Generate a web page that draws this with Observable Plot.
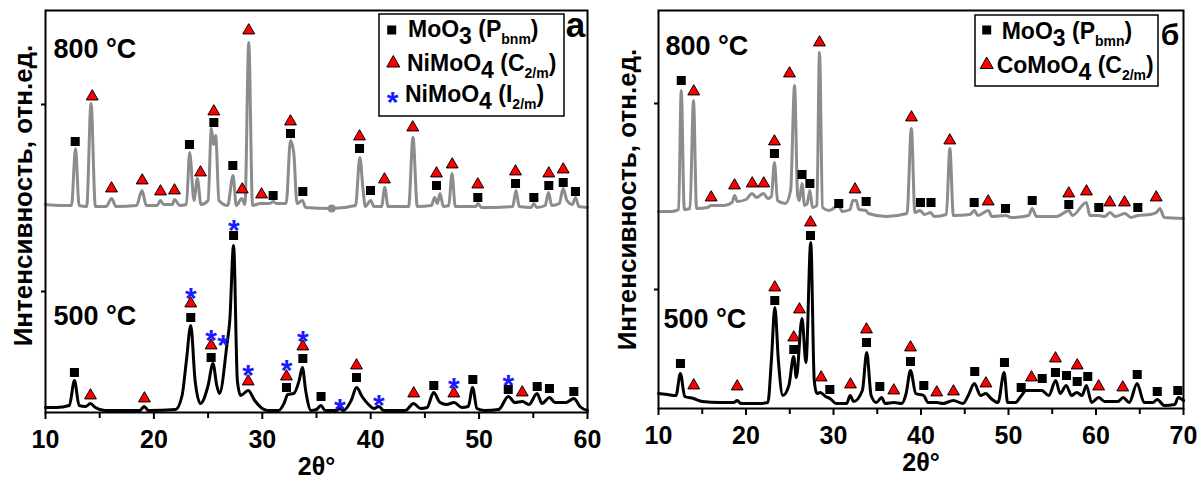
<!DOCTYPE html>
<html><head><meta charset="utf-8">
<script src="https://cdn.jsdelivr.net/npm/d3@7"></script>
<script src="https://cdn.jsdelivr.net/npm/@observablehq/plot@0.6"></script>
<style>
body{margin:0;background:#fff;}
#wrap{position:relative;width:1201px;height:479px;overflow:hidden;font-family:"Liberation Sans",Arial,sans-serif;}
#left,#right{position:absolute;top:0;}
#left{left:0;} #right{left:600px;}
#overlay{position:absolute;left:0;top:0;}
</style></head><body>
<div id="wrap"><div id="left"></div><div id="right"></div><svg id="overlay" width="1201" height="479"></svg></div>
<script>
// ---------- Panel а (Ni) : 2θ vs intensity (arb. units) ----------
const curveA800 = [[10.0,208],[11.5,207],[12.4,207],[12.77,264],[13.1,207],[13.8,206],[14.2,309],[14.6,206],[15.6,206],[16.1,214],[16.5,206],[18.4,207],[18.9,222],[19.3,207],[20.3,207],[20.6,212],[20.9,208],[21.7,208],[21.9,213],[22.4,207],[23.0,208],[23.3,260],[23.7,212],[24.0,234],[24.35,208],[25.0,212],[25.3,284],[25.5,268],[25.7,277],[26.0,212],[26.8,207],[27.3,237],[27.6,207],[28.1,214],[28.4,208],[28.75,370],[29.1,207],[29.8,209],[30.7,209],[31.0,211],[31.3,209],[32.2,209],[32.6,272],[32.9,260],[33.2,209],[33.7,212],[34.0,205],[36.4,204],[38.6,207],[39.0,255],[39.3,222],[39.5,206],[40.0,212],[40.3,206],[41.0,206],[41.3,225],[41.6,206],[43.5,206],[43.9,275],[44.3,206],[45.6,207],[45.9,215],[46.15,209],[46.4,219],[46.7,206],[47.2,207],[47.5,239],[47.8,206],[49.7,206],[49.9,209],[50.2,205],[53.1,206],[53.4,222],[53.7,206],[54.8,205],[55.05,209],[55.3,205],[56.1,207],[56.4,220],[56.7,207],[57.4,209],[57.75,224],[58.1,212],[58.6,208],[58.9,215],[59.2,206],[60.0,205]];
const curveA500 = [[10.0,5],[11.0,5],[12.2,7],[12.67,32],[13.1,7],[13.7,6],[14.15,9],[14.6,5],[15.5,2],[18.7,2],[19.1,6],[19.5,2],[22.0,3],[22.6,17],[23.0,52],[23.4,87],[23.8,32],[24.3,9],[25.0,27],[25.45,49],[25.8,27],[26.05,19],[26.75,69],[27.0,92],[27.35,167],[27.7,32],[28.0,17],[28.7,22],[29.3,12],[30.0,4],[30.5,2],[31.5,2],[32.0,9],[32.35,18],[32.9,19],[33.4,32],[33.7,45],[34.0,22],[34.5,2],[35.0,3],[35.4,7],[35.8,2],[36.8,2],[37.15,4],[37.5,2],[38.2,12],[38.7,25],[39.2,16],[39.8,8],[40.3,4],[40.75,6],[41.2,2],[43.2,2],[43.95,9],[44.6,4],[45.2,5],[45.8,20],[46.4,10],[47.0,8],[47.7,10],[48.4,5],[49.0,6],[49.4,25],[49.8,4],[50.5,2],[51.8,3],[52.7,16],[53.3,10],[54.0,11],[54.6,8],[55.35,19],[55.8,9],[56.5,15],[57.0,10],[58.0,10],[58.75,14],[59.3,6],[60.0,2]];
const sqA800 = [[12.74,271],[23.28,268],[25.53,290],[27.28,247],[31.0,217],[32.6,279],[33.74,221],[38.97,264],[39.98,222],[46.07,227],[49.88,215],[53.36,229],[55.05,215],[56.43,227],[57.76,230],[58.89,221]];
const trA800 = [[14.31,316],[16.09,224],[18.92,232],[20.61,221],[21.9,222],[24.3,240],[25.53,301],[28.15,223],[28.75,382],[29.93,218],[32.6,291],[38.97,276],[41.27,233],[43.88,285],[46.07,239],[47.52,248],[49.88,228],[53.36,241],[56.43,239],[57.76,243]];
const dotA800 = [[36.4,204]];
const sqA500 = [[12.67,40],[23.4,95],[25.28,55],[27.35,177],[32.23,25],[33.74,54],[35.42,16],[38.69,35],[45.82,27],[49.42,33],[52.69,23],[55.36,26],[56.49,24],[58.74,21]];
const trA500 = [[14.15,17],[19.13,14],[23.4,109],[25.28,67],[28.7,31],[32.23,36],[33.74,66],[38.69,47],[43.97,19],[47.67,19],[53.98,20]];
const stA500 = [[23.4,122],[25.28,80],[26.39,75],[27.37,190],[28.7,45],[32.23,50],[33.74,79],[37.15,11],[40.75,15],[47.67,32],[52.69,35]];

// ---------- Panel б (Co) ----------
const curveB800 = [[10.0,197],[11.5,197],[12.3,199],[12.6,318],[12.95,199],[13.6,200],[14.0,308],[14.35,200],[15.6,201],[16.0,203],[17.5,203],[18.4,206],[18.7,213],[19.0,207],[20.0,209],[20.7,215],[21.2,211],[22.0,215],[22.5,210],[22.9,212],[23.25,246],[23.6,208],[24.5,205],[25.1,218],[25.55,323],[25.9,213],[26.1,208],[26.4,225],[26.7,203],[27.0,205],[27.3,218],[27.6,201],[28.1,203],[28.4,356],[28.75,201],[29.5,198],[30.6,203],[31.0,197],[31.9,199],[32.2,208],[32.6,208],[32.9,199],[33.7,198],[34.0,195],[36.0,192],[38.4,195],[38.9,280],[39.3,196],[39.9,198],[40.4,194],[41.1,196],[41.5,192],[42.9,194],[43.3,260],[43.7,193],[45.6,194],[46.1,198],[46.5,193],[47.7,198],[48.1,192],[49.7,193],[50.3,191],[52.3,193],[52.7,200],[53.2,192],[55.5,192],[56.6,197],[56.9,198],[57.3,193],[58.9,206],[59.3,193],[60.3,193],[61.0,192],[61.6,196],[62.2,192],[63.3,195],[64.0,191],[64.8,193],[66.2,194],[66.9,196],[67.3,200],[67.8,191],[70.0,190]];
const curveB500 = [[10.0,15],[11.0,14],[12.0,13],[12.5,35],[13.0,12],[14.0,10],[15.0,7],[17.0,6],[18.6,6],[19.0,8],[19.4,5],[21.5,5],[22.5,6],[22.9,48],[23.3,101],[23.7,48],[24.2,13],[24.9,23],[25.45,52],[25.75,31],[26.4,90],[26.85,46],[27.4,166],[27.8,28],[28.1,15],[28.5,16],[29.1,12],[29.6,10],[30.3,5],[31.5,5],[31.9,13],[32.3,7],[33.3,18],[33.8,56],[34.3,13],[34.9,6],[35.5,11],[35.9,5],[36.9,6],[37.8,5],[38.3,15],[38.8,38],[39.4,15],[40.3,13],[40.8,6],[41.8,6],[42.5,5],[43.7,8],[44.8,5],[45.4,13],[46.1,25],[46.8,13],[47.4,15],[48.0,10],[48.8,6],[49.5,36],[49.9,6],[50.8,6],[51.4,12],[52.0,18],[53.0,18],[53.8,18],[54.6,13],[55.4,28],[55.9,15],[56.6,23],[57.2,13],[57.8,16],[58.4,13],[58.9,23],[59.5,6],[60.3,11],[61.0,7],[62.5,7],[63.1,11],[63.8,6],[64.7,25],[65.5,6],[66.5,6],[67.0,9],[67.8,3],[69.0,4],[69.4,11],[70.0,8]];
const sqB800 = [[12.6,328],[23.25,255],[26.4,234],[27.3,225],[30.6,205],[33.73,207],[39.94,206],[41.14,206],[46.08,206],[49.66,200],[52.71,208],[56.89,204],[60.32,201],[64.78,201]];
const trB800 = [[14.03,317],[16.02,211],[18.69,223],[20.71,225],[22.03,225],[23.25,267],[24.97,335],[28.4,366],[32.46,219],[38.91,291],[43.29,268],[47.68,207],[56.89,215],[58.91,217],[61.58,206],[63.26,206],[66.88,211]];
const sqB500 = [[12.51,45],[23.29,108],[25.46,59],[27.37,173],[29.58,19],[33.77,66],[35.29,22],[38.8,47],[40.32,23],[46.14,37],[49.54,46],[51.45,21],[53.85,30],[55.37,36],[56.63,33],[57.85,27],[59.06,32],[64.71,34],[67.0,17],[69.35,18]];
const trB500 = [[14.03,23],[18.99,22],[23.29,121],[25.46,71],[26.11,99],[27.37,186],[28.59,31],[31.94,24],[33.77,79],[36.89,18],[38.8,61],[41.8,16],[43.71,17],[47.42,25],[52.63,31],[55.37,50],[57.85,43],[60.3,22],[63.06,21]];

// tick values and texts
const xTicksA = [10, 20, 30, 40, 50, 60];
const xTicksB = [10, 20, 30, 40, 50, 60, 70];
const yTicksA = [121, 308];
const yTicksB = [119, 305];
const yTitle = "Интенсивность, отн.ед.";
const xTitle = "2θ°";
const tempLabels = ["800 °C", "500 °C"];

const P = a => a.map(([x, y]) => ({x, y}));
const FONT = '"Liberation Sans", Arial, Helvetica, sans-serif';

function panel(o) {
  const marks = [
    Plot.axisX({ticks: o.xTicks, tickSize: 7, tickPadding: 11, strokeWidth: 2, label: null, fontSize: 25, fontWeight: "bold"}),
    Plot.axisX({ticks: o.xTicks.slice(0, -1).map(v => v + 5), tickSize: 6, strokeWidth: 2, tickFormat: () => "", label: null}),
    Plot.axisY({ticks: o.yTicks, tickSize: 4, strokeWidth: 2, tickFormat: () => "", label: null}),
    Plot.line(P(o.c800), {x: "x", y: "y", stroke: "#8c8c8c", strokeWidth: 3, curve: "monotone-x"}),
    Plot.line(P(o.c500), {x: "x", y: "y", stroke: "black", strokeWidth: 3, curve: "monotone-x"}),
  ];
  if (o.dots) marks.push(Plot.dot(P(o.dots), {x: "x", y: "y", r: 4, fill: "#8c8c8c"}));
  for (const s of [o.sq800, o.sq500]) marks.push(Plot.dot(P(s), {x: "x", y: "y", symbol: "square", r: 5.1, fill: "black"}));
  for (const t of [o.tr800, o.tr500]) marks.push(Plot.dot(P(t), {x: "x", y: "y", symbol: "triangle", r: 4.4, fill: "#ff0000", stroke: "black", strokeWidth: 1}));
  if (o.st500) marks.push(Plot.text(P(o.st500), {x: "x", y: "y", text: () => "*", fill: "#1a1aff", fontSize: 30, fontWeight: "bold", lineAnchor: "middle", dy: 8}));
  marks.push(Plot.frame({stroke: "black", strokeWidth: 2}));
  const T = {text: d => d, fontWeight: "bold", lineAnchor: "middle"};
  marks.push(Plot.text([tempLabels[0]], {...T, frameAnchor: "top-left", textAnchor: "start", dx: o.t8[0], dy: o.t8[1], fontSize: 27}));
  marks.push(Plot.text([tempLabels[1]], {...T, frameAnchor: "top-left", textAnchor: "start", dx: o.t5[0], dy: o.t5[1], fontSize: 27}));
  marks.push(Plot.text([xTitle], {...T, frameAnchor: "bottom", textAnchor: "middle", dy: 54, fontSize: 25}));
  marks.push(Plot.text([yTitle], {...T, frameAnchor: "left", textAnchor: "middle", rotate: -90, dx: o.yl[0], dy: o.yl[1], fontSize: 26}));
  return Plot.plot({
    width: o.width, height: 479,
    marginLeft: o.mL, marginRight: o.mR, marginTop: 10, marginBottom: o.mB,
    x: {domain: [10, o.xTicks[o.xTicks.length - 1]]},
    y: {domain: [0, o.yMax]},
    style: {fontFamily: FONT, fontWeight: "bold", fontSize: "25px", background: "transparent", overflow: "visible", color: "black"},
    marks
  });
}

document.getElementById("left").appendChild(panel({
  width: 600, mL: 45, mR: 13, mB: 67, yMax: 402, xTicks: xTicksA, yTicks: yTicksA,
  c800: curveA800, c500: curveA500, sq800: sqA800, tr800: trA800, sq500: sqA500, tr500: trA500, st500: stA500, dots: dotA800,
  t8: [8, 39], t5: [8, 306], yl: [-22, -16]
}));
document.getElementById("right").appendChild(panel({
  width: 601, mL: 58, mR: 18, mB: 71, yMax: 398, xTicks: xTicksB, yTicks: yTicksB,
  c800: curveB800, c500: curveB500, sq800: sqB800, tr800: trB800, sq500: sqB500, tr500: trB500,
  t8: [7, 36], t5: [5, 309], yl: [-31, -10]
}));

// ---------- legends and panel letters ----------
const ov = d3.select("#overlay").style("font-family", FONT).style("font-weight", "bold");
function legendText(x, y, parts) {
  const t = ov.append("text").attr("x", x).attr("y", y).attr("font-size", 23);
  let shifted = false;
  for (const [s, kind] of parts) {
    const sp = t.append("tspan").text(s);
    if (kind && !shifted) { sp.attr("dy", 7); shifted = true; }
    else if (!kind && shifted) { sp.attr("dy", -7); shifted = false; }
    if (kind === "small") sp.attr("font-size", 14);
  }
}
function sq(cx, cy) { ov.append("rect").attr("x", cx - 4.5).attr("y", cy - 4.5).attr("width", 9).attr("height", 9).attr("fill", "black"); }
function tri(cx, cy) { ov.append("path").attr("d", `M${cx},${cy - 6.5}L${cx + 6.5},${cy + 5}L${cx - 6.5},${cy + 5}Z`).attr("fill", "#ff0000").attr("stroke", "black").attr("stroke-width", 1); }

ov.append("rect").attr("x", 379).attr("y", 14).attr("width", 185).attr("height", 102).attr("fill", "white").attr("stroke", "black").attr("stroke-width", 1.5);
sq(391.7, 30); legendText(408, 37, [["MoO"], ["3", "sub"], [" (P"], ["bnm", "small"], [")"]]);
tri(393.3, 62); legendText(407, 71, [["NiMoO"], ["4", "sub"], [" (C"], ["2/m", "small"], [")"]]);
ov.append("text").attr("x", 392.7).attr("y", 112).attr("text-anchor", "middle").attr("font-size", 30).attr("fill", "#1a1aff").text("*");
legendText(405, 102, [["NiMoO"], ["4", "sub"], [" (I"], ["2/m", "small"], [")"]]);

ov.append("rect").attr("x", 975).attr("y", 15).attr("width", 183).attr("height", 71).attr("fill", "white").attr("stroke", "black").attr("stroke-width", 1.5);
sq(986.7, 30); legendText(1001.7, 39, [["MoO"], ["3", "sub"], [" (P"], ["bmn", "small"], [")"]]);
tri(986.7, 63.5); legendText(996.7, 73, [["CoMoO"], ["4", "sub"], [" (C"], ["2/m", "small"], [")"]]);

ov.append("text").attr("x", 575.5).attr("y", 37).attr("text-anchor", "middle").attr("font-size", 35).text("а");
ov.append("text").attr("x", 1170).attr("y", 45).attr("text-anchor", "middle").attr("font-size", 30).text("б");
</script>
</body></html>
